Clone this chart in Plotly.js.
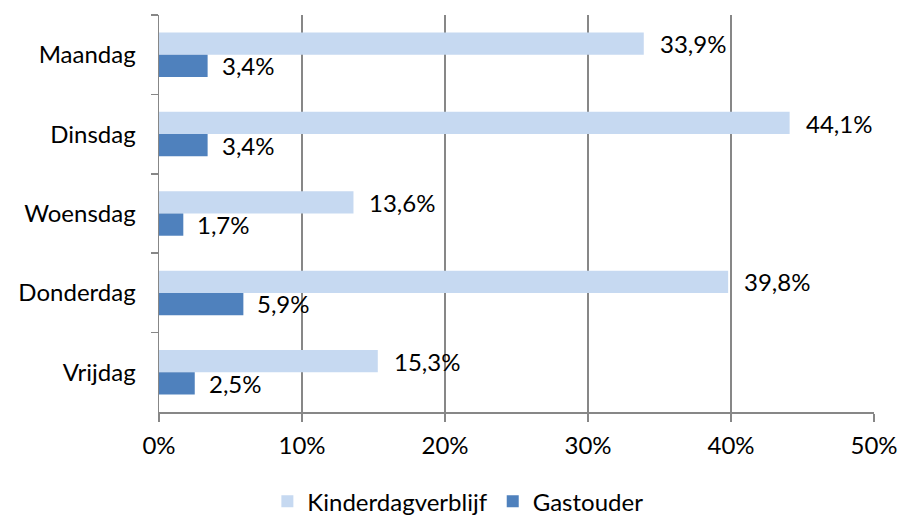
<!DOCTYPE html>
<html>
<head>
<meta charset="utf-8">
<script src="https://cdn.plot.ly/plotly-3.0.1.min.js"></script>
<style>html,body{margin:0;padding:0;background:#fff;}#chart{width:902px;height:515px;}</style>
</head>
<body>
<div id="chart"></div>
<script>
const categories = ["Maandag", "Dinsdag", "Woensdag", "Donderdag", "Vrijdag"];
const kinderdagverblijf = [33.9, 44.1, 13.6, 39.8, 15.3];
const gastouder = [3.4, 3.4, 1.7, 5.9, 2.5];
const seriesNames = ["Kinderdagverblijf", "Gastouder"];
const xTickVals = [0, 10, 20, 30, 40, 50];
const xTickText = ["0%", "10%", "20%", "30%", "40%", "50%"];

const FONT = "Lato, 'Open Sans', sans-serif";
const FS = 24;
const fmt = v => v.toFixed(1).replace(".", ",") + "%";

const traces = [
  {type: "bar", orientation: "h", name: seriesNames[0], y: categories, x: kinderdagverblijf,
   marker: {color: "#C6D9F1"}, hoverinfo: "skip"},
  {type: "bar", orientation: "h", name: seriesNames[1], y: categories, x: gastouder,
   marker: {color: "#4F81BD"}, hoverinfo: "skip"}
];

const annotations = [];
categories.forEach((c, i) => {
  annotations.push({x: kinderdagverblijf[i], y: c, xref: "x", yref: "y", text: fmt(kinderdagverblijf[i]),
    showarrow: false, xanchor: "left", yanchor: "middle", xshift: 14, yshift: 11,
    font: {family: FONT, size: FS, color: "#000"}});
  annotations.push({x: gastouder[i], y: c, xref: "x", yref: "y", text: fmt(gastouder[i]),
    showarrow: false, xanchor: "left", yanchor: "middle", xshift: 12, yshift: -11,
    font: {family: FONT, size: FS, color: "#000"}});
});

const layout = {
  width: 902, height: 515,
  margin: {l: 159, r: 28, t: 15, b: 103, autoexpand: false},
  paper_bgcolor: "#fff", plot_bgcolor: "#fff",
  barmode: "group", bargap: 0.44, bargroupgap: 0,
  font: {family: FONT, size: FS, color: "#000"},
  xaxis: {range: [0, 50], tickvals: xTickVals, ticktext: xTickText,
    showgrid: true, gridcolor: "#878787", gridwidth: 1.5,
    showline: true, linecolor: "#878787", linewidth: 1.5,
    ticks: "outside", ticklen: 8, tickcolor: "#878787", tickwidth: 1.5, ticklabelstandoff: 4,
    zeroline: false, fixedrange: true, tickfont: {family: FONT, size: FS}},
  yaxis: {type: "category", categoryorder: "array", categoryarray: categories, autorange: "reversed",
    showline: true, linecolor: "#878787", linewidth: 1.5,
    ticks: "outside", ticklen: 7, tickcolor: "#878787", tickwidth: 1.5, tickson: "boundaries",
    showgrid: false, zeroline: false, fixedrange: true, ticklabelstandoff: 17,
    tickfont: {family: FONT, size: FS}},
  legend: {orientation: "h", x: 0.418, xanchor: "center", yref: "container", y: 0.026, yanchor: "middle",
    font: {family: FONT, size: FS}, itemsizing: "constant"},
  annotations: annotations,
  showlegend: true
};

Plotly.newPlot("chart", traces, layout, {displayModeBar: false, staticPlot: true});
</script>
</body>
</html>
